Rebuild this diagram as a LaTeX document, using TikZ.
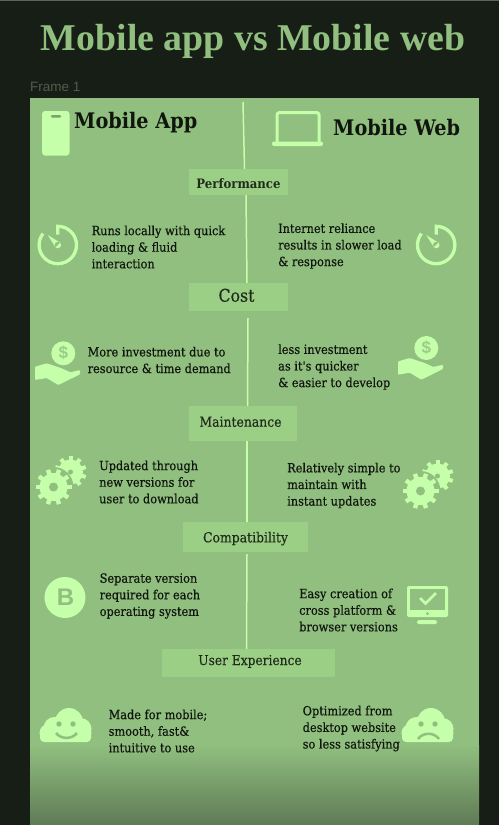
\documentclass[tikz,border=0pt]{standalone}
\usepackage{fontspec}
\setmainfont{DejaVu Serif Condensed}
\setsansfont{Liberation Sans}
\newfontfamily\titlefont{Liberation Serif}
\newfontfamily\bodyfont{DejaVu Serif Condensed}[FakeBold=0.35]
\definecolor{darkbg}{HTML}{171E15}
\definecolor{framegreen}{HTML}{90BF7F}
\definecolor{fadegreen}{HTML}{5F7A55}
\definecolor{boxgreen}{HTML}{9BCF86}
\definecolor{icongreen}{HTML}{C6FFA9}
\definecolor{framelabel}{HTML}{4F5E4A}
\definecolor{inkdark}{HTML}{10150E}
\def\body{\bodyfont\fontsize{12.6}{16.6}\selectfont}
\def\lab#1{\bodyfont\fontsize{#1}{18}\selectfont}
\tikzset{
  bodytext/.style={anchor=west, align=left, inner sep=0pt, text=inkdark, font=\body},
  headtext/.style={anchor=west, inner sep=0pt, text=inkdark, font=\fontsize{21.4}{24}\selectfont\bfseries},
  sectionbox/.style={fill=boxgreen, inner sep=0pt, text=inkdark!88!boxgreen, text depth=0pt, text height=#1},
  spine/.style={icongreen, line width=1.5pt},
  gaugeicon/.pic={
    \draw[icongreen, line width=3.3pt] (0,-10.5) -- (0,-18.7) arc[start angle=90, end angle=-218, radius=18.7pt];
    \fill[icongreen] (-10,-10) -- (2.3,-2.3) -- (-2.3,2.3) -- cycle (0,0) circle (3.3pt);
  },
  handicon/.pic={
    \fill[icongreen] (0,0) circle (12pt);
    \node[text=framegreen!80!icongreen, inner sep=0pt, font=\sffamily\bfseries\fontsize{17}{17}\selectfont] (-dollar) at (0,0) {\$};
    \fill[icongreen, rounded corners=1pt] (-28.3,13.4) -- (-16.6,10) -- (-1.6,15) -- (7,19) -- (16.7,16.7) -- (16.7,21) -- (-5,31.7) -- (-16.6,24.7) -- (-28.3,26.7) -- cycle;
  },
  gearicon/.pic={
    \foreach \a in {0,36,...,324}
      \fill[icongreen, shift={(17,-15)}, rotate=\a] (-2,9) rectangle (2,16);
    \fill[icongreen] (17,-15) circle (12.5pt);
    \fill[framegreen] (17,-15) circle (2.5pt) (0,0) circle (20pt);
    \foreach \a in {0,36,...,324}
      \fill[icongreen, rotate=\a+18] (-2.2,11) rectangle (2.2,18);
    \fill[icongreen] (0,0) circle (14pt);
    \fill[framegreen] (0,0) circle (4.5pt);
  },
  cloudicon/.pic={
    \fill[icongreen] (3.5,-4) circle (14pt) (-11,2) circle (11pt) (-17,7) circle (9pt)
      (15,3) circle (11pt) (17,7) circle (9pt);
    \fill[icongreen, rounded corners=4pt] (-25.5,6) rectangle (25.5,16);
    \fill[framegreen] (-6.5,-2) circle (2.7pt) (7.5,-2) circle (2.7pt);
  }
}
\begin{document}
\begin{tikzpicture}[x=1pt, y=-1pt]
  \useasboundingbox (0,0) rectangle (499,825);
  \fill[darkbg] (0,0) rectangle (499,825);
  \fill[gray!70!darkbg] (0,0) rectangle (499,1);
  \fill[framegreen] (30,98) rectangle (479,745);
  \shade[top color=framegreen, bottom color=fadegreen] (30,745) rectangle (479,825);

  \node[inner sep=0pt, text=framegreen, font=\titlefont\bfseries\fontsize{37.8}{40}\selectfont] (title) at (253,41.5) {Mobile app vs Mobile web};
  \node[anchor=west, inner sep=0pt, text=framelabel, font=\sffamily\fontsize{13.5}{16}\selectfont] (framename) at (30,87) {Frame 1};

  % section labels
  \node[sectionbox=12pt, minimum width=99pt, minimum height=26pt, font=\fontsize{13}{14}\selectfont\bfseries] (perf) at (238.5,182) {Performance};
  \node[sectionbox=9.4pt, minimum width=99pt, minimum height=28pt, font=\lab{17.5}] (cost) at (238.5,297) {Cost\hspace*{4pt}};
  \node[sectionbox=6.4pt, minimum width=108pt, minimum height=35pt, font=\lab{13.8}] (maint) at (243,423.5) {Maintenance\hspace*{5pt}};
  \node[sectionbox=10.6pt, minimum width=125pt, minimum height=30pt, font=\lab{13.8}] (compat) at (245.5,537) {Compatibility};
  \node[sectionbox=4pt, minimum width=173pt, minimum height=28pt, font=\lab{13.6}] (ux) at (248.5,663) {\hspace*{3pt}User Experience};

  % centre line
  \coordinate (linetop) at (243,102);
  \draw[spine] (linetop) -- ([xshift=6pt]perf.north);
  \draw[spine] ([xshift=7.5pt]perf.south) -- ([xshift=8.5pt]cost.north);
  \draw[spine] ([xshift=9.5pt, yshift=-7pt]cost.south) -- ([xshift=4.5pt]maint.north);
  \draw[spine] ([xshift=4pt]maint.south) -- ([xshift=1.5pt]compat.north);
  \draw[spine] ([xshift=1.5pt, yshift=-2pt]compat.south) -- ([xshift=-2pt]ux.north);

  % headings
  \fill[icongreen, rounded corners=3pt] (42,111) rectangle (69.5,155.5);
  \fill[framegreen!85!black, rounded corners=1pt] (51,115) rectangle (61,117.5);
  \draw[icongreen, line width=3pt, rounded corners=2.5pt] (277,143) -- (277,112.5) -- (319,112.5) -- (319,143);
  \fill[icongreen, rounded corners=2pt] (272,141.5) rectangle (323,146);
  \node[headtext] (apphead) at (74,122.5) {Mobile App};
  \node[headtext] (webhead) at (333,127.5) {Mobile Web};

  % performance
  \pic (gaugeL) at (57.8,245) {gaugeicon};
  \pic (gaugeR) at (436.2,245) {gaugeicon};
  \node[bodytext] (perfL) at (91.5,247) {Runs locally with quick\\loading \& fluid\\interaction};
  \node[bodytext] (perfR) at (278,246) {Internet reliance\\results in slower load\\\& response};

  % cost
  \pic (handL) at (63.3,353.3) {handicon};
  \pic (handR) at (426.3,348) {handicon};
  \node[bodytext] (costL) at (87.5,360) {More investment due to\\resource \& time demand};
  \node[bodytext] (costR) at (278,367) {less investment\\as it's quicker\\\& easier to develop};

  % maintenance
  \pic (gearL) at (53.5,487) {gearicon};
  \pic (gearR) at (420.5,491) {gearicon};
  \node[bodytext] (maintL) at (99,482) {Updated through\\new versions for\\user to download};
  \node[bodytext] (maintR) at (287,485.5) {Relatively simple to\\maintain with\\instant updates};

  % compatibility
  \fill[icongreen] (65,597.5) circle (20.5pt);
  \node[text=framegreen, inner sep=0pt, font=\sffamily\bfseries\fontsize{24}{24}\selectfont] (bbadge) at (65.5,597.5) {B};
  \node[bodytext] (compatL) at (99.5,596) {Separate version\\required for each\\operating system};
  \node[bodytext] (compatR) at (299,610) {Easy creation of\\cross platform \&\\browser versions};
  \fill[icongreen, rounded corners=2pt] (407,586) rectangle (448,617);
  \fill[framegreen] (410,589) rectangle (445,609.5);
  \fill[framegreen] (427.5,613.5) circle (1.5pt);
  \fill[icongreen, rounded corners=1.5pt] (417,620) rectangle (437,624);
  \draw[icongreen, line width=2.5pt] (420,598) -- (425.5,603.5) -- (436,593);

  % user experience
  \pic (cloudL) at (65.5,726) {cloudicon};
  \pic (cloudR) at (427.5,726) {cloudicon};
  \draw[framegreen, line width=2.5pt] (56,733) .. controls (61,739.5) and (72,739.5) .. (77,733);
  \draw[framegreen, line width=2.5pt] (418,739) .. controls (423,732) and (434,732) .. (439,739);
  \node[bodytext] (uxL) at (108.5,731) {Made for mobile;\\smooth, fast\&\\intuitive to use};
  \node[bodytext] (uxR) at (302.5,728.5) {Optimized from\\desktop website\\so less satisfying};
\end{tikzpicture}
\end{document}
